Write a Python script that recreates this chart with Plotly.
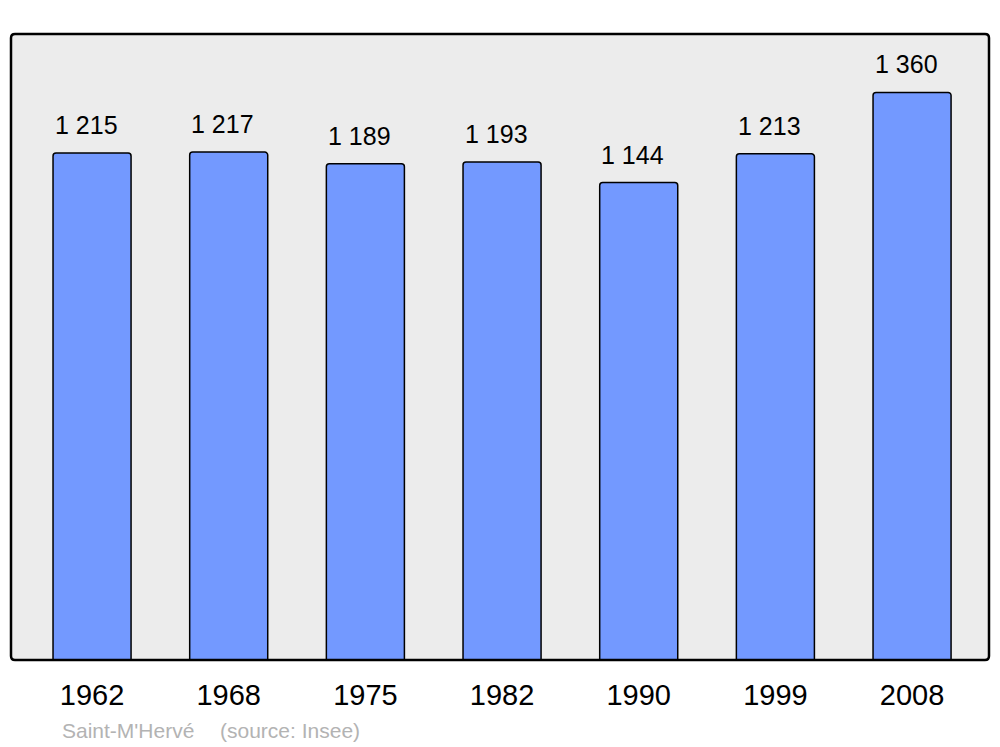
import plotly.graph_objects as go

years = ["1962", "1968", "1975", "1982", "1990", "1999", "2008"]
population = [1215, 1217, 1189, 1193, 1144, 1213, 1360]
labels = ["1 215", "1 217", "1 189", "1 193", "1 144", "1 213", "1 360"]

FONT = "Liberation Sans, Arial, sans-serif"

fig = go.Figure(go.Bar(
    x=years,
    y=population,
    width=0.571,
    marker=dict(color="#7399ff", line=dict(color="#000000", width=1.5), cornerradius=3),
    hoverinfo="skip",
))

# value labels above the bars (x as category index)
for i, (val, lab) in enumerate(zip(population, labels)):
    fig.add_annotation(
        x=i, y=val, text=lab, showarrow=False,
        yanchor="middle", yshift=28, xshift=-6,
        font=dict(family=FONT, size=25, color="#000000"),
    )

# rounded frame around the plot area (paper coords)
rx, ry = 4 / 978, 4 / 626
frame = (
    f"M {rx},0 L {1 - rx},0 Q 1,0 1,{ry} L 1,{1 - ry} Q 1,1 {1 - rx},1 "
    f"L {rx},1 Q 0,1 0,{1 - ry} L 0,{ry} Q 0,0 {rx},0 Z"
)
fig.add_shape(type="path", xref="paper", yref="paper", path=frame,
              line=dict(color="#000000", width=2.5), layer="above")

# footer
fig.add_annotation(xref="paper", yref="paper", x=49 / 978, y=-70 / 626,
                   xanchor="left", yanchor="middle", showarrow=False,
                   text="Saint-M'Hervé", font=dict(family=FONT, size=21, color="#b3b3b3"))
fig.add_annotation(xref="paper", yref="paper", x=207 / 978, y=-70 / 626,
                   xanchor="left", yanchor="middle", showarrow=False,
                   text="(source: Insee)", font=dict(family=FONT, size=21, color="#b3b3b3"))

fig.update_layout(
    width=1000, height=747,
    margin=dict(l=11, r=11, t=34, b=87),
    paper_bgcolor="#ffffff",
    plot_bgcolor="#ececec",
    showlegend=False,
    xaxis=dict(
        type="category", range=[-0.593, 6.563],
        showgrid=False, zeroline=False, showline=False, ticks="",
        tickfont=dict(family=FONT, size=29, color="#000000"),
        ticklabelstandoff=15,
    ),
    yaxis=dict(
        range=[0, 1500], showgrid=False, zeroline=False,
        showline=False, showticklabels=False, ticks="",
    ),
)

fig.write_html("out.html", config={"displayModeBar": False},
               post_script="document.body.style.margin='0px';")
